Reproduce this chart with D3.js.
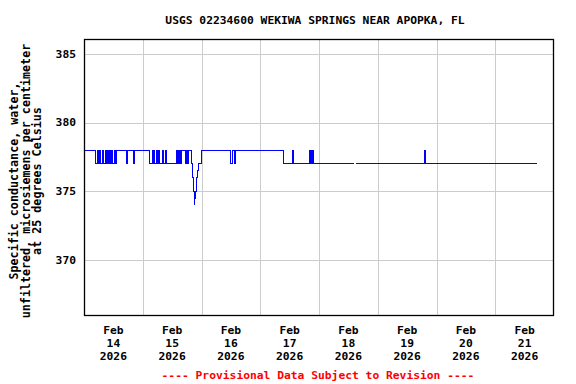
<!DOCTYPE html>
<html>
<head>
<meta charset="utf-8">
<script src="https://cdn.jsdelivr.net/npm/d3@7"></script>
<style>
  html, body { margin: 0; padding: 0; background: #fff; }
  svg { display: block; }
  text { font-family: "DejaVu Sans Mono", "Liberation Mono", monospace; font-weight: bold; }
</style>
</head>
<body>
<svg id="chart" width="576" height="384"></svg>
<script>
// ---- Data (hours after 2026-02-14 00:00, value at and after that hour; null = gap) ----
const title = "USGS 02234600 WEKIWA SPRINGS NEAR APOPKA, FL";
const yLabelLines = ["Specific conductance, water,", "unfiltered, microsiemens per centimeter", "at 25 degrees Celsius"];
const footer = "---- Provisional Data Subject to Revision ----";
const yTicks = [370, 375, 380, 385];
const dayTicks = ["2026-02-14", "2026-02-15", "2026-02-16", "2026-02-17", "2026-02-18", "2026-02-19", "2026-02-20", "2026-02-21"];

const changeHours = [
  0, 4.9, 5.7, 6.1, 6.5, 6.9, 7.4, 7.8, 8.6, 8.8, 9.2, 9.4, 9.8, 10.2, 10.6, 11.0, 11.4, 11.8, 12.3, 12.7, 13.1,
  17.2, 17.6, 20.4, 20.8,
  26.6, 27.8, 28.2, 28.6, 29.0, 29.8, 30.2, 30.6, 31.0, 31.9, 32.3, 33.1, 33.5,
  37.6, 38.0, 38.4, 38.8, 39.2, 39.6, 40.0, 41.3, 41.7, 42.1, 42.5,
  43.9, 44.5, 44.8, 45.0, 45.2, 45.5, 45.8, 46.1, 46.5, 46.9, 48.2,
  60.0, 60.8, 61.6, 62.0,
  81.3, 85.0, 85.4,
  92.2, 92.5, 92.8, 93.0, 93.2, 93.6,
  110.3, 110.35, 111.1,
  138.9, 139.3, 139.6,
  185.0
];
const changeValues = [
  378, 377, 378, 377, 378, 377, 378, 377, 378, 377, 378, 377, 378, 377, 378, 377, 378, 377, 378, 377, 378,
  377, 378, 377, 378,
  377, 378, 377, 378, 377, 378, 377, 378, 377, 378, 377, 378, 377,
  378, 377, 378, 377, 378, 377, 378, 377, 378, 377, 378,
  377, 376, 375, 374, 374.5, 375, 375.5, 376, 376.5, 377, 378,
  377, 378, 377, 378,
  377, 378, 377,
  378, 377, 378, 377, 378, 377,
  377, null, 377,
  377.5, 378, 377,
  377
];

// ---- Layout ----
const svg = d3.select("#chart");
const mLeft = 84, mRight = 554, mTop = 39, mBottom = 316;
const t0 = Date.UTC(2026, 1, 14);
const hourMs = 3600 * 1000;

const x = d3.scaleUtc()
  .domain([new Date(t0), new Date(Date.UTC(2026, 1, 22))])
  .range([mLeft, mRight]);
const y = d3.scaleLinear().domain([365.92, 386.08]).range([mBottom, mTop]);

const data = changeHours.map((h, i) => ({ t: new Date(t0 + h * hourMs), v: changeValues[i] }));

// grid
const g = svg.append("g");
g.selectAll("line.hg").data(yTicks).join("line")
  .attr("x1", mLeft).attr("x2", mRight)
  .attr("y1", d => Math.round(y(d)) + 0.5).attr("y2", d => Math.round(y(d)) + 0.5)
  .attr("stroke", "#cccccc").attr("stroke-width", 1);
const midnights = d3.utcDay.range(new Date(Date.UTC(2026, 1, 15)), new Date(Date.UTC(2026, 1, 22)));
g.selectAll("line.vg").data(midnights).join("line")
  .attr("y1", mTop).attr("y2", mBottom)
  .attr("x1", d => Math.round(x(d)) + 0.5).attr("x2", d => Math.round(x(d)) + 0.5)
  .attr("stroke", "#cccccc").attr("stroke-width", 1);

// data line
const line = d3.line()
  .defined(d => d.v !== null)
  .x(d => x(d.t))
  .y(d => y(d.v))
  .curve(d3.curveStepAfter);
svg.append("path").datum(data)
  .attr("d", line)
  .attr("fill", "none")
  .attr("stroke", "#0000ff")
  .attr("stroke-width", 1)
  .attr("shape-rendering", "crispEdges");

// frame
svg.append("rect")
  .attr("x", mLeft + 0.5).attr("y", mTop + 0.5)
  .attr("width", mRight - mLeft - 1).attr("height", mBottom - mTop - 1)
  .attr("fill", "none").attr("stroke", "#000").attr("stroke-width", 1.3);

// y tick labels
svg.selectAll("text.yt").data(yTicks).join("text")
  .attr("x", 76).attr("y", d => y(d))
  .attr("dy", "0.35em")
  .attr("text-anchor", "end")
  .attr("font-size", "11.3px")
  .text(d => d);

// x tick labels (noon of each day)
const fmtMon = d3.utcFormat("%b"), fmtDay = d3.utcFormat("%-d"), fmtYear = d3.utcFormat("%Y");
const days = dayTicks.map(s => new Date(s + "T12:00:00Z"));
const xl = svg.selectAll("g.xt").data(days).join("g")
  .attr("transform", d => `translate(${x(d)},0)`);
[[fmtMon, 334], [fmtDay, 347], [fmtYear, 360]].forEach(([f, yy]) => {
  xl.append("text").attr("x", 0).attr("y", yy)
    .attr("text-anchor", "middle").attr("font-size", "11.3px")
    .text(d => f(d));
});

// title
svg.append("text").attr("x", 315).attr("y", 24)
  .attr("text-anchor", "middle").attr("font-size", "11.3px")
  .text(title);

// y-axis title
const yl = svg.append("text")
  .attr("transform", `translate(0,181) rotate(-90)`)
  .attr("text-anchor", "middle").attr("font-size", "11.7px");
yLabelLines.forEach((s, i) => {
  yl.append("tspan").attr("x", 0).attr("y", 18 + i * 11.5).text(s);
});

// footer
svg.append("text").attr("x", 318).attr("y", 379)
  .attr("text-anchor", "middle").attr("font-size", "11.3px")
  .attr("fill", "#ff0000")
  .text(footer);
</script>
</body>
</html>
